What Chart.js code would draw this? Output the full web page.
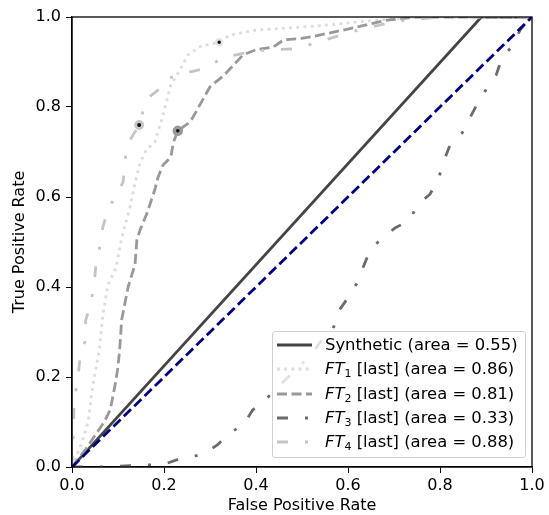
<!DOCTYPE html>
<html>
<head>
<meta charset="utf-8">
<script src="https://cdn.jsdelivr.net/npm/chart.js@4.4.0/dist/chart.umd.min.js"></script>
<style>
  body { margin: 0; background: #fff; }
  #wrap { position: relative; width: 549px; height: 515px; }
  #legend { position: absolute; left: 272px; top: 331px; width: 254px; height: 127px; box-sizing: border-box;
            border: 1px solid #d0d0d0; border-radius: 3px; background: rgba(255,255,255,0.8);
            font-family: 'DejaVu Sans'; font-size: 16.4px; color: #000; }
  .row { position: absolute; left: 0; height: 24px; line-height: 24px; white-space: nowrap; }
  .row svg { position: absolute; left: 4px; top: 7px; }
  .row span { position: absolute; left: 52px; }
  sub { font-size: 11px; vertical-align: -3px; line-height: 0; }
</style>
</head>
<body>
<div id="wrap">
  <canvas id="roc" width="549" height="515"></canvas>
  <div id="legend"></div>
</div>
<script>
// ROC curves
var synthX = [0, 0.89, 1];
var synthY = [0, 1, 1];

var ft1X = [0, 0.02, 0.035, 0.045, 0.06, 0.067, 0.078, 0.096, 0.107, 0.126, 0.137, 0.148, 0.161, 0.18, 0.198, 0.215, 0.237, 0.252, 0.28, 0.32, 0.343, 0.4, 0.474, 0.533, 0.663, 0.75, 1];
var ft1Y = [0, 0.05, 0.1, 0.18, 0.264, 0.338, 0.404, 0.444, 0.504, 0.578, 0.631, 0.676, 0.704, 0.722, 0.782, 0.849, 0.887, 0.916, 0.935, 0.944, 0.96, 0.971, 0.976, 0.98, 0.993, 1, 1];

var ft2X = [0, 0.03, 0.07, 0.083, 0.093, 0.1, 0.104, 0.108, 0.115, 0.122, 0.137, 0.141, 0.148, 0.163, 0.18, 0.187, 0.198, 0.215, 0.22, 0.23, 0.257, 0.27, 0.3, 0.33, 0.372, 0.402, 0.437, 0.46, 0.502, 0.52, 0.59, 0.685, 0.75, 1];
var ft2Y = [0, 0.04, 0.1, 0.127, 0.178, 0.222, 0.267, 0.327, 0.364, 0.4, 0.45, 0.504, 0.527, 0.564, 0.616, 0.644, 0.671, 0.689, 0.72, 0.747, 0.767, 0.79, 0.845, 0.87, 0.916, 0.928, 0.933, 0.949, 0.953, 0.956, 0.971, 0.993, 1, 1];

var ft3X = [0, 0.06, 0.2, 0.242, 0.284, 0.316, 0.343, 0.372, 0.393, 0.42, 0.47, 0.52, 0.543, 0.567, 0.578, 0.6, 0.62, 0.633, 0.648, 0.674, 0.702, 0.735, 0.75, 0.778, 0.796, 0.807, 0.822, 0.848, 0.865, 0.883, 0.902, 0.922, 0.935, 0.959, 0.974, 0.991, 1];
var ft3Y = [0, 0, 0.006, 0.021, 0.027, 0.049, 0.076, 0.093, 0.127, 0.149, 0.2, 0.249, 0.282, 0.304, 0.344, 0.376, 0.409, 0.444, 0.482, 0.509, 0.531, 0.549, 0.582, 0.606, 0.638, 0.676, 0.716, 0.742, 0.776, 0.811, 0.842, 0.871, 0.909, 0.938, 0.971, 0.993, 1];

var ft4X = [0, 0.002, 0.005, 0.013, 0.017, 0.028, 0.03, 0.04, 0.048, 0.052, 0.06, 0.067, 0.078, 0.093, 0.111, 0.115, 0.122, 0.146, 0.154, 0.165, 0.193, 0.209, 0.25, 0.293, 0.326, 0.4, 0.49, 0.6, 0.7, 0.8, 1];
var ft4Y = [0, 0.06, 0.15, 0.198, 0.238, 0.278, 0.327, 0.36, 0.404, 0.449, 0.487, 0.533, 0.571, 0.6, 0.633, 0.682, 0.72, 0.76, 0.789, 0.82, 0.842, 0.864, 0.876, 0.887, 0.909, 0.925, 0.93, 0.965, 0.99, 1, 1];

var chanceX = [0, 1];
var chanceY = [0, 1];

// chosen operating points
var opX = [0.32, 0.23, 0.146];
var opY = [0.944, 0.747, 0.76];

var names = ['Synthetic', 'FT1', 'FT2', 'FT3', 'FT4'];
var areas = [0.55, 0.86, 0.81, 0.33, 0.88];
var xTicks = [0, 0.2, 0.4, 0.6, 0.8, 1.0];

var colors = ['#444444', '#dcdcdc', '#999999', '#6b6b6b', '#c4c4c4'];
var dashes = [[], [2.8, 4.4], [10, 4.5], [11, 17, 3, 17], [11, 17, 3, 17]];
var ringColors = ['#e4e4e4', '#999999', '#c8c8c8'];

function pts(xs, ys) {
  return xs.map(function (x, i) { return { x: x, y: ys[i] }; });
}

function curve(label, xs, ys, color, dash, order) {
  return {
    label: label, data: pts(xs, ys), showLine: true,
    borderColor: color, backgroundColor: color, borderWidth: 2.8,
    borderDash: dash, borderJoinStyle: 'round', pointRadius: 0, tension: 0, order: order
  };
}

function marker(i, r, ring) {
  return {
    label: 'op' + i, data: [{ x: opX[i], y: opY[i] }], showLine: false,
    pointRadius: r, pointBackgroundColor: '#111', pointBorderColor: ringColors[i],
    pointBorderWidth: ring, order: 0
  };
}

var font = { family: 'DejaVu Sans', size: 16 };

var frame = {
  id: 'frame',
  afterDatasetsDraw: function (chart) {
    var a = chart.chartArea, ctx = chart.ctx;
    ctx.save();
    ctx.strokeStyle = '#000';
    ctx.lineWidth = 1.3;
    ctx.strokeRect(a.left, a.top, a.right - a.left, a.bottom - a.top);
    ctx.restore();
  }
};

var ctx = document.getElementById('roc').getContext('2d');
var chart = new Chart(ctx, {
  type: 'scatter',
  data: {
    datasets: [
      curve(names[0], synthX, synthY, colors[0], dashes[0], 6),
      curve(names[1], ft1X, ft1Y, colors[1], dashes[1], 5),
      curve(names[2], ft2X, ft2Y, colors[2], dashes[2], 4),
      curve(names[3], ft3X, ft3Y, colors[3], dashes[3], 3),
      curve(names[4], ft4X, ft4Y, colors[4], dashes[4], 2),
      curve('chance', chanceX, chanceY, '#000080', [10, 4.5], 1),
      marker(0, 3, 2.5),
      marker(1, 3.5, 3.5),
      marker(2, 3.5, 3)
    ]
  },
  options: {
    responsive: false,
    animation: false,
    devicePixelRatio: 1,
    layout: { padding: { top: 17, right: 17, left: 0, bottom: 0 } },
    plugins: { legend: { display: false }, tooltip: { enabled: false } },
    scales: {
      x: {
        type: 'linear', min: 0, max: 1,
        afterFit: function (s) { s.height = 48; },
        afterBuildTicks: function (s) { s.ticks = xTicks.map(function (v) { return { value: v }; }); },
        ticks: { color: '#000', font: font, padding: 3, callback: function (v) { return v.toFixed(1); } },
        grid: { drawOnChartArea: false, drawTicks: true, tickLength: 6, color: '#000', lineWidth: 1 },
        border: { display: true, color: '#000', width: 1.3 },
        title: { display: true, text: 'False Positive Rate', color: '#000', font: font, padding: { top: 0, bottom: 0 } }
      },
      y: {
        type: 'linear', min: 0, max: 1,
        afterFit: function (s) { s.width = 72; },
        afterBuildTicks: function (s) { s.ticks = xTicks.map(function (v) { return { value: v }; }); },
        ticks: { color: '#000', font: font, padding: 5, callback: function (v) { return v.toFixed(1); } },
        grid: { drawOnChartArea: false, drawTicks: true, tickLength: 6, color: '#000', lineWidth: 1 },
        border: { display: true, color: '#000', width: 1.3 },
        title: { display: true, text: 'True Positive Rate', color: '#000', font: font, padding: { top: 10, bottom: 0 } }
      }
    }
  },
  plugins: [frame]
});

// legend with italic FT and subscript numbers
var box = document.getElementById('legend');
names.forEach(function (n, i) {
  var label = n === 'Synthetic' ? 'Synthetic'
    : '<i>FT</i><sub>' + n.slice(2) + '</sub> [last]';
  var row = document.createElement('div');
  row.className = 'row';
  row.style.top = (1 + i * 24.25) + 'px';
  row.innerHTML = '<svg width="35" height="10"><line x1="0" y1="5" x2="35" y2="5" stroke="' + colors[i] +
    '" stroke-width="2.8" stroke-dasharray="' + (dashes[i].length ? dashes[i].join(' ') : 'none') + '"/></svg>' +
    '<span>' + label + ' (area = ' + areas[i].toFixed(2) + ')</span>';
  box.appendChild(row);
});
</script>
</body>
</html>
